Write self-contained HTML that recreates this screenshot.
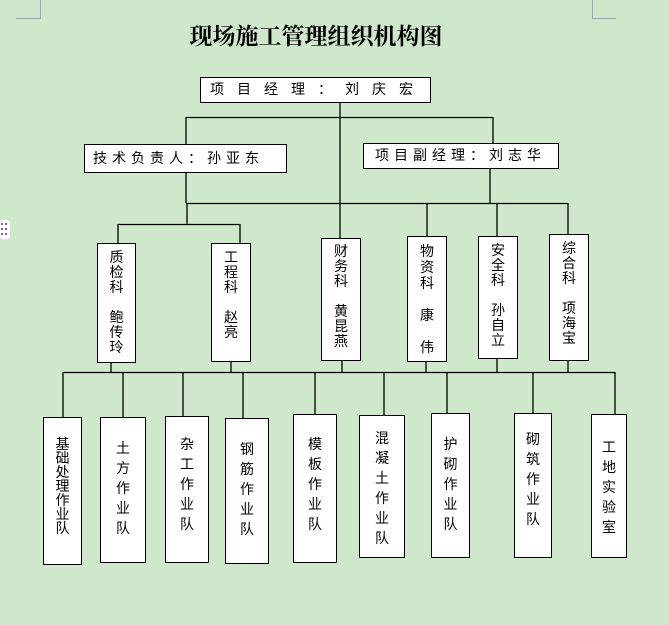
<!DOCTYPE html>
<html><head><meta charset="utf-8"><style>
html,body{margin:0;padding:0}
body{width:669px;height:625px;background:#cfe7ca;position:relative;overflow:hidden;font-family:"Liberation Sans","Noto Sans CJK SC",sans-serif;}
.b{position:absolute;background:#fff;border:1.5px solid #000;box-sizing:border-box;text-align:center;color:#000;}
.v{font-size:14px;line-height:15px;}
.w{font-size:14px;line-height:20px;}
.h{font-size:14px;line-height:22px;white-space:nowrap;}
svg{position:absolute;left:0;top:0}
</style></head><body>
<svg width="669" height="625">
<g stroke="#9aa" stroke-width="1" fill="none">
<path d="M16 18.5H40.5V0"/><path d="M616 18.5H592.5V0"/>
</g>
<rect x="0" y="220" width="10" height="19" rx="3" fill="#fff"/>
<g fill="#777"><rect x="1" y="223" width="2" height="2"/><rect x="5" y="223" width="2" height="2"/><rect x="1" y="228" width="2" height="2"/><rect x="5" y="228" width="2" height="2"/><rect x="1" y="233" width="2" height="2"/><rect x="5" y="233" width="2" height="2"/></g>
<g stroke="#000" stroke-width="1.3" fill="none">
<path d="M340 102V203"/>
<path d="M186 117.5H493M186 117V144M493 117V143"/>
<path d="M186 172V203M490 168V203"/>
<path d="M186 203.5H568"/>
<path d="M187 203V224M118 224.5H240M118 224V243M240 224V243"/>
<path d="M340 203V238M427 203V236M497 203V236M568 203V234"/>
<path d="M111 362V372M231 361V372M342 360V372M426 361V372M497 358V372M568 360V372"/>
<path d="M63 372.5H615"/>
<path d="M63 372V417M123 372V417M183 372V416M243 372V418M315 372V414M384 372V415M447 372V413M533 372V413M615 372V414"/>
</g>
</svg>
<div style="position:absolute;left:184px;top:20px;width:264px;text-align:center;font-family:'Noto Serif CJK SC','Noto Sans CJK SC',serif;font-weight:bold;font-size:23px;line-height:30px;white-space:nowrap;">现场施工管理组织机构图</div>
<div class="b h" style="left:200px;top:77px;width:231px;height:26px;letter-spacing:13px;text-align:left;padding-left:9px;line-height:23px;">项目经理：刘庆宏</div>
<div class="b h" style="left:84px;top:144px;width:203px;height:29px;letter-spacing:5px;text-align:left;padding-left:8px;line-height:26px;">技术负责人：孙亚东</div>
<div class="b h" style="left:363px;top:143px;width:196px;height:26px;letter-spacing:5px;text-align:left;padding-left:11px;line-height:23px;">项目副经理：刘志华</div>

<div class="b v" style="left:97px;top:243px;width:39px;height:120px;padding-top:6px;">质<br>检<br>科<br><br>鲍<br>传<br>玲</div>
<div class="b v" style="left:211px;top:243px;width:40px;height:119px;padding-top:6px;">工<br>程<br>科<br><br>赵<br>亮</div>
<div class="b v" style="left:321px;top:238px;width:40px;height:123px;padding-top:5px;">财<br>务<br>科<br><br>黄<br>昆<br>燕</div>
<div class="b v" style="left:407px;top:236px;width:40px;height:126px;padding-top:6px;line-height:16px;">物<br>资<br>科<br><br>康<br><br>伟</div>
<div class="b v" style="left:478px;top:236px;width:40px;height:123px;padding-top:6px;">安<br>全<br>科<br><br>孙<br>自<br>立</div>
<div class="b v" style="left:549px;top:234px;width:40px;height:127px;padding-top:6px;">综<br>合<br>科<br><br>项<br>海<br>宝</div>

<div class="b" style="left:43px;top:417px;width:39px;height:148px;padding-top:19px;font-size:14px;line-height:14px;">基<br>础<br>处<br>理<br>作<br>业<br>队</div>
<div class="b w" style="left:100px;top:417px;width:46px;height:146px;padding-top:20px;">土<br>方<br>作<br>业<br>队</div>
<div class="b w" style="left:165px;top:416px;width:44px;height:147px;padding-top:17px;">杂<br>工<br>作<br>业<br>队</div>
<div class="b w" style="left:225px;top:418px;width:44px;height:146px;padding-top:20px;">钢<br>筋<br>作<br>业<br>队</div>
<div class="b w" style="left:293px;top:414px;width:44px;height:149px;padding-top:19px;">模<br>板<br>作<br>业<br>队</div>
<div class="b w" style="left:359px;top:415px;width:46px;height:143px;padding-top:12px;">混<br>凝<br>土<br>作<br>业<br>队</div>
<div class="b w" style="left:431px;top:413px;width:39px;height:145px;padding-top:20px;">护<br>砌<br>作<br>业<br>队</div>
<div class="b w" style="left:514px;top:413px;width:38px;height:145px;padding-top:15px;">砌<br>筑<br>作<br>业<br>队</div>
<div class="b w" style="left:591px;top:414px;width:36px;height:144px;padding-top:22px;">工<br>地<br>实<br>验<br>室</div>
</body></html>
